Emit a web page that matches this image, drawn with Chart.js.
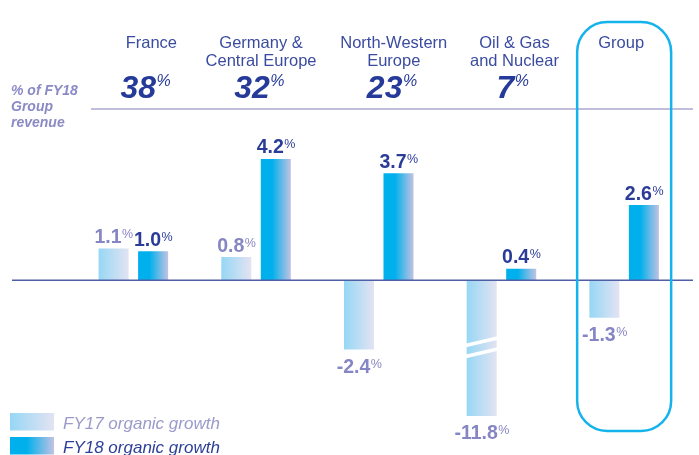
<!DOCTYPE html>
<html>
<head>
<meta charset="utf-8">
<script src="https://cdn.jsdelivr.net/npm/chart.js@4.4.1/dist/chart.umd.min.js"></script>
<style>
  html, body { margin: 0; padding: 0; background: #ffffff; }
  #wrap { width: 699px; height: 455px; }
</style>
</head>
<body>
<div id="wrap"><canvas id="c" width="699" height="455"></canvas></div>
<script>
// ---- data ----
const categories = ['France', 'Germany & Central Europe', 'North-Western Europe', 'Oil & Gas and Nuclear', 'Group'];
const headerLines = [['France'], ['Germany &', 'Central Europe'], ['North-Western', 'Europe'], ['Oil & Gas', 'and Nuclear'], ['Group']];
const revenueShare = ['38', '32', '23', '7', null];
const fy17Growth = [1.1, 0.8, -2.4, -11.8, -1.3];
const fy18Growth = [1.0, 4.2, 3.7, 0.4, 2.6];
const seriesNames = ['FY17 organic growth', 'FY18 organic growth'];
const sideLabel = ['% of FY18', 'Group', 'revenue'];

// ---- style / layout ----
const CAT_PCT = 0.644, BAR_PCT = 0.76;
const FONT = '"Liberation Sans", Arial, sans-serif';
const headerOffset = [18, 5, 15, 13, -3];
const shareOffset = [12, 3, 13, 11, 0];

function barGeom(chart, ds, i) {
  const ca = chart.chartArea;
  const cx = chart.scales.x.getPixelForValue(i);
  const catW = ca.width / categories.length;
  const chunk = catW * CAT_PCT / 2;
  const center = cx - catW * CAT_PCT / 2 + chunk * ds + chunk / 2;
  return { center, width: chunk * BAR_PCT };
}

function makeFill(ds) {
  return function (c) {
    const chart = c.chart;
    if (!chart.chartArea) return ds === 0 ? '#a8dcf4' : '#00b0ec';
    const g = barGeom(chart, ds, c.dataIndex);
    const grad = chart.ctx.createLinearGradient(g.center - g.width / 2, 0, g.center + g.width / 2, 0);
    if (ds === 0) {
      grad.addColorStop(0, '#96d7f5');
      grad.addColorStop(1, '#e3e3f2');
    } else {
      grad.addColorStop(0, '#00b0ec');
      grad.addColorStop(0.38, '#00b0ec');
      grad.addColorStop(1, '#c2c2e3');
    }
    return grad;
  };
}

function drawValue(ctx, num, cx, baseline, color, numSize, pctSize, italic) {
  const numFont = (italic ? 'italic ' : '') + 'bold ' + numSize + 'px ' + FONT;
  const pctFont = (italic ? 'italic ' : '') + pctSize + 'px ' + FONT;
  ctx.font = numFont;
  const wn = ctx.measureText(num).width;
  ctx.font = pctFont;
  const wp = ctx.measureText('%').width;
  const x0 = cx - (wn + wp) / 2;
  ctx.fillStyle = color;
  ctx.textAlign = 'left';
  ctx.textBaseline = 'alphabetic';
  ctx.font = numFont;
  ctx.fillText(num, x0, baseline);
  ctx.font = pctFont;
  const capN = numSize * 0.72, capP = pctSize * 0.72;
  ctx.fillText('%', x0 + wn + 0.5, baseline - capN + capP);
}

function roundRect(ctx, x, y, w, h, r) {
  ctx.beginPath();
  ctx.moveTo(x + r, y);
  ctx.lineTo(x + w - r, y);
  ctx.arcTo(x + w, y, x + w, y + r, r);
  ctx.lineTo(x + w, y + h - r);
  ctx.arcTo(x + w, y + h, x + w - r, y + h, r);
  ctx.lineTo(x + r, y + h);
  ctx.arcTo(x, y + h, x, y + h - r, r);
  ctx.lineTo(x, y + r);
  ctx.arcTo(x, y, x + r, y, r);
  ctx.closePath();
}

const decor = {
  id: 'decor',
  afterDatasetsDraw(chart) {
    const ctx = chart.ctx, ca = chart.chartArea, ys = chart.scales.y;
    ctx.save();
    // break marks on bars that run past the scale minimum
    [fy17Growth, fy18Growth].forEach((arr, ds) => {
      arr.forEach((v, i) => {
        if (ys.getPixelForValue(v) > ca.bottom) {
          const g = barGeom(chart, ds, i);
          const l = g.center - g.width / 2 - 1, r = g.center + g.width / 2 + 1;
          ctx.strokeStyle = '#ffffff';
          ctx.lineWidth = 3.5;
          ctx.beginPath();
          ctx.moveTo(l, ca.bottom - 70.5); ctx.lineTo(r, ca.bottom - 78);
          ctx.moveTo(l, ca.bottom - 59.5); ctx.lineTo(r, ca.bottom - 67);
          ctx.stroke();
        }
      });
    });
    // zero line
    const y0 = ys.getPixelForValue(0);
    ctx.strokeStyle = '#4f5fa6';
    ctx.lineWidth = 1.5;
    ctx.beginPath(); ctx.moveTo(12, y0); ctx.lineTo(693, y0); ctx.stroke();
    // value labels
    const colors = ['#8686c4', '#2a3c97'];
    [fy17Growth, fy18Growth].forEach((arr, ds) => {
      arr.forEach((v, i) => {
        const g = barGeom(chart, ds, i);
        const yp = Math.min(Math.max(ys.getPixelForValue(v), ca.top), ca.bottom);
        const base = v >= 0 ? yp - 5.5 : yp + 23;
        const txt = (v < 0 ? '-' : '') + Math.abs(v).toFixed(1);
        drawValue(ctx, txt, g.center, base, colors[ds], 19.5, 12.5, false);
      });
    });
    ctx.restore();
  },
  afterDraw(chart) {
    const ctx = chart.ctx, xs = chart.scales.x;
    ctx.save();
    // header line
    ctx.strokeStyle = '#aaaad1';
    ctx.lineWidth = 1.5;
    ctx.beginPath(); ctx.moveTo(91, 109); ctx.lineTo(693, 109); ctx.stroke();
    // region headers
    headerLines.forEach((lines, i) => {
      const cx = xs.getPixelForValue(i) + headerOffset[i];
      ctx.textAlign = 'center';
      ctx.textBaseline = 'alphabetic';
      ctx.fillStyle = '#3b4ca0';
      ctx.font = '16.5px ' + FONT;
      lines.forEach((ln, k) => ctx.fillText(ln, cx, 48 + k * 18));
      if (revenueShare[i]) {
        drawValue(ctx, revenueShare[i], xs.getPixelForValue(i) + shareOffset[i], 98, '#263a99', 32, 16, true);
      }
    });
    // side label
    ctx.textAlign = 'left';
    ctx.fillStyle = '#8a8ac6';
    ctx.font = 'italic bold 14px ' + FONT;
    sideLabel.forEach((ln, k) => ctx.fillText(ln, 11, 95 + k * 16));
    // group highlight box
    const gx = xs.getPixelForValue(categories.length - 1);
    ctx.strokeStyle = '#14b3ec';
    ctx.lineWidth = 2.5;
    roundRect(ctx, gx - 47, 22, 94, 409, 30);
    ctx.stroke();
    // legend
    const sw = [
      { y: 413, stops: [[0, '#96d7f5'], [1, '#e3e3f2']], color: '#9a9acb' },
      { y: 437, stops: [[0, '#00b0ec'], [0.38, '#00b0ec'], [1, '#c2c2e3']], color: '#2c3f98' }
    ];
    sw.forEach((s, k) => {
      const grad = ctx.createLinearGradient(10, 0, 54, 0);
      s.stops.forEach(st => grad.addColorStop(st[0], st[1]));
      ctx.fillStyle = grad;
      ctx.fillRect(10, s.y, 44, 17.5);
      ctx.fillStyle = s.color;
      ctx.font = 'italic 17px ' + FONT;
      ctx.textAlign = 'left';
      ctx.fillText(seriesNames[k], 63, s.y + 16);
    });
    ctx.restore();
  }
};

new Chart(document.getElementById('c'), {
  type: 'bar',
  data: {
    labels: categories,
    datasets: [
      { label: seriesNames[0], data: fy17Growth, backgroundColor: makeFill(0), borderWidth: 0,
        categoryPercentage: CAT_PCT, barPercentage: BAR_PCT, clip: 0 },
      { label: seriesNames[1], data: fy18Growth, backgroundColor: makeFill(1), borderWidth: 0,
        categoryPercentage: CAT_PCT, barPercentage: BAR_PCT, clip: 0 }
    ]
  },
  options: {
    responsive: false,
    animation: false,
    devicePixelRatio: 1,
    layout: { padding: { left: 72, right: 13.5, top: 130, bottom: 39 } },
    plugins: { legend: { display: false }, tooltip: { enabled: false }, title: { display: false } },
    scales: {
      x: { display: false },
      y: { display: false, min: -4.7, max: 5.2 }
    }
  },
  plugins: [decor]
});
</script>
</body>
</html>
